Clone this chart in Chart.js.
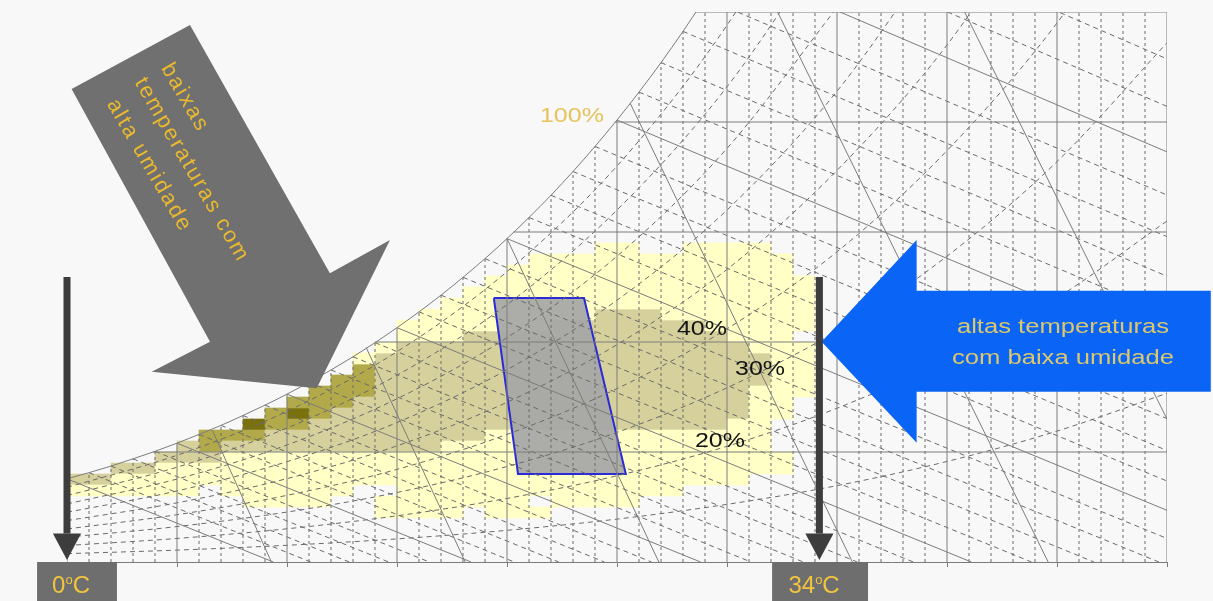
<!DOCTYPE html>
<html lang="pt-BR">
<head>
<meta charset="utf-8">
<title>Carta psicrométrica</title>
<script src="https://cdn.jsdelivr.net/npm/chart.js@4.4.1/dist/chart.umd.min.js"></script>
<style>
  html, body { margin: 0; padding: 0; background: #f8f8f8; }
  #box { position: relative; width: 1213px; height: 601px; }
</style>
</head>
<body>
<div id="box"><canvas id="psy"></canvas></div>
<script>
// temperatura de bulbo seco (°C) x umidade absoluta (g/kg)

// curva de saturação (100%)
const SAT_T = [0, 1, 2, 3, 4, 5, 6, 7, 8, 9, 10, 11, 12, 13, 14, 15, 16, 17, 18, 19, 20,
  21, 22, 23, 24, 25, 26, 27, 28, 29, 30, 31, 32, 33, 34];
const SAT_W = [3.78, 4.06, 4.36, 4.69, 5.03, 5.40, 5.80, 6.21, 6.66, 7.13, 7.63, 8.17, 8.73,
  9.33, 9.97, 10.65, 11.37, 12.13, 12.94, 13.79, 14.70, 15.66, 16.67, 17.75, 18.89, 20.09,
  21.36, 22.70, 24.12, 25.63, 27.20, 28.88, 30.65, 32.52, 34.49];

// umidade relativa
const RH_LEVELS = [10, 20, 30, 40, 50, 60, 70, 80, 90];
const RH_T = [0, 5, 10, 15, 20, 25, 30, 35, 40, 45, 50];
const RH_W = [
  [0.38, 0.54, 0.76, 1.05, 1.44, 1.95, 2.62, 3.47, 4.57, 5.95, 7.67],
  [0.75, 1.07, 1.51, 2.10, 2.89, 3.92, 5.26, 6.99, 9.20, 12.0, 15.5],
  [1.13, 1.61, 2.27, 3.16, 4.34, 5.89, 7.92, 10.5, 13.9, 18.2, 23.6],
  [1.50, 2.15, 3.03, 4.21, 5.80, 7.88, 10.6, 14.1, 18.7, 24.5, 31.9],
  [1.88, 2.69, 3.79, 5.28, 7.26, 9.88, 13.3, 17.8, 23.5, 30.9],
  [2.26, 3.23, 4.56, 6.34, 8.74, 11.9, 16.0, 21.4, 28.4],
  [2.64, 3.77, 5.32, 7.42, 10.2, 13.9, 18.8, 25.2],
  [3.02, 4.31, 6.09, 8.49, 11.7, 16.0, 21.6, 28.9],
  [3.39, 4.85, 6.85, 9.56, 13.2, 18.0, 24.4, 32.7]
];

// bulbo úmido: começa na saturação, termina na borda
const WB_END_T = [9.38, 11.08, 12.83, 14.62, 16.47, 18.37, 20.33, 22.35, 24.43, 26.57, 28.80,
  31.09, 33.47, 35.92, 38.47, 41.11, 43.84, 46.68, 49.63, 50, 50, 50, 50, 50, 50, 50, 50,
  50, 50, 50, 50, 50, 50, 50];
const WB_END_W = [0, 0, 0, 0, 0, 0, 0, 0, 0, 0, 0, 0, 0, 0, 0, 0, 0, 0, 0, 1.07, 2.35, 3.68,
  5.07, 6.52, 8.03, 9.61, 11.26, 12.99, 14.79, 16.68, 18.64, 20.71, 22.87, 25.14];

// volume específico
const VOL_START_T = [6.6, 13.6, 20.0, 25.6, 32.3, 40.8];
const VOL_START_W = [6.0, 9.75, 14.7, 20.85, 25, 25];
const VOL_END_T = [9.29, 18.1, 26.9, 35.7, 44.6, 50];
const VOL_END_W = [0, 0, 0, 0, 0, 6.5];

// linhas de umidade absoluta
const DEW_W = [5, 10, 15, 20, 25];
const DEW_T = [3.9, 14.0, 20.3, 24.9, 28.6];

// frequência dos dados climáticos (faixas de 0,5 g/kg, células de 1 °C)
const CLOUD_ROW_W = [14, 13.5, 13, 12.5, 12, 11.5, 11, 10.5, 10, 9.5, 9, 8.5, 8, 7.5, 7,
  6.5, 6, 5.5, 5, 4.5, 4, 3.5, 3, 2.5, 2];
const CLOUD_RUNS = [
  [[24, 25, 1], [28, 31, 1]],
  [[21, 32, 1]],
  [[20, 32, 1]],
  [[19, 33, 1]],
  [[18, 33, 1]],
  [[17, 33, 1]],
  [[16, 23, 1], [24, 26, 2], [27, 33, 1]],
  [[15, 21, 1], [22, 28, 2], [29, 33, 1]],
  [[15, 17, 1], [18, 29, 2], [30, 32, 1]],
  [[14, 14, 1], [15, 30, 2], [31, 33, 1]],
  [[13, 13, 1], [14, 31, 2], [32, 33, 1]],
  [[13, 13, 3], [14, 31, 2], [32, 33, 1]],
  [[12, 13, 3], [14, 31, 2], [32, 33, 1]],
  [[11, 13, 3], [14, 30, 2], [31, 33, 1]],
  [[10, 12, 3], [13, 30, 2], [31, 32, 1]],
  [[9, 9, 3], [10, 10, 4], [11, 11, 3], [12, 30, 2], [31, 32, 1]],
  [[8, 8, 4], [9, 10, 3], [11, 29, 2], [30, 31, 1]],
  [[6, 8, 3], [9, 18, 2], [19, 31, 1]],
  [[5, 5, 2], [6, 6, 3], [7, 16, 2], [17, 31, 1]],
  [[4, 6, 2], [7, 32, 1]],
  [[2, 3, 2], [4, 32, 1]],
  [[0, 1, 2], [2, 30, 1]],
  [[0, 5, 1], [7, 12, 1], [15, 27, 1]],
  [[8, 11, 1], [14, 20, 1], [22, 25, 1]],
  [[14, 17, 1], [19, 21, 1]]
];

// zona de conforto
const COMFORT_T = [19.4, 23.5, 25.4, 20.5];
const COMFORT_W = [12.0, 12.0, 4.0, 4.0];

// setas
const COLD_ARROW_T = [0.21, 5.59, 11.95, 14.68, 11.35, 3.85, 6.50];
const COLD_ARROW_W = [21.5, 24.41, 13.12, 14.64, 7.90, 8.65, 10.01];
const HOT_ARROW_T = [34.30, 38.62, 38.62, 51.99, 51.99, 38.62, 38.62];
const HOT_ARROW_W = [10.01, 14.64, 12.33, 12.33, 7.74, 7.74, 5.42];
const MARKER_T = [0, 34.2];
const MARKER_LABEL = ['0', '34'];

// ---- estilo ----
const SOLID = '#7c7c7c';
const DASHED = '#6a6a6a';
const CLOUD_COLORS = ['rgb(255,255,198)', 'rgb(214,209,156)', 'rgb(178,170,74)', 'rgb(122,112,12)'];
const FONT = '"Liberation Sans", Arial, sans-serif';

const MARKER_BOX = [[-1.36, 2.27], [32.05, 36.41]];
const NOTES = [
  { text: '100%', t: 22.95, w: 20.27, size: 20, color: '#e6c35c', stretch: 1.25 },
  { text: '40%', t: 28.86, w: 10.55, size: 20, color: '#141414', stretch: 1.25 },
  { text: '30%', t: 31.5, w: 8.77, size: 20, color: '#141414', stretch: 1.25 },
  { text: '20%', t: 29.68, w: 5.5, size: 20, color: '#141414', stretch: 1.25 },
  { text: 'altas temperaturas', t: 45.27, w: 10.64, size: 20, color: '#dcc86c', stretch: 1.28 },
  { text: 'com baixa umidade', t: 45.27, w: 9.27, size: 20, color: '#dcc86c', stretch: 1.28 },
  { text: 'baixas', t: 4.5, w: 22.59, size: 22, color: '#e9b92e', angle: 60, align: 'left', spacing: '2px' },
  { text: 'temperaturas com', t: 3.29, w: 21.94, size: 22, color: '#e9b92e', angle: 60, align: 'left', spacing: '2px' },
  { text: 'alta umidade', t: 2.03, w: 20.97, size: 22, color: '#e9b92e', angle: 60, align: 'left', spacing: '2px' }
];

const GAP = { x: NaN, y: NaN };

function lineSet(data, extra) {
  return Object.assign({
    type: 'scatter',
    data,
    showLine: true,
    pointRadius: 0,
    borderWidth: 1,
    borderColor: SOLID,
    fill: false,
    tension: 0
  }, extra);
}

// grades
const vDash = [];
const vSolid = [];
for (let t = 0; t <= 50; t++) {
  const top = t < SAT_W.length ? Math.min(SAT_W[t], 25) : 25;
  (t % 5 === 0 ? vSolid : vDash).push({ x: t, y: 0 }, { x: t, y: top }, GAP);
}

const hSolid = [];
DEW_W.forEach((w, i) => hSolid.push({ x: DEW_T[i], y: w }, { x: 50, y: w }, GAP));

const wbDash = [];
const wbSolid = [];
WB_END_T.forEach((tEnd, t) => {
  (t % 5 === 0 ? wbSolid : wbDash).push({ x: t, y: SAT_W[t] }, { x: tEnd, y: WB_END_W[t] }, GAP);
});

const volSolid = [];
VOL_START_T.forEach((t, i) => {
  volSolid.push({ x: t, y: VOL_START_W[i] }, { x: VOL_END_T[i], y: VOL_END_W[i] }, GAP);
});

const cloudSets = CLOUD_COLORS.map(color => ({
  type: 'bar',
  data: [],
  backgroundColor: color,
  borderWidth: 0,
  grouped: false,
  barPercentage: 1,
  categoryPercentage: 1,
  order: 50
}));
CLOUD_RUNS.forEach((runs, r) => {
  runs.forEach(([t0, t1, level]) => {
    for (let t = t0; t <= t1; t++) {
      cloudSets[level - 1].data.push({ x: t + 0.5, y: [CLOUD_ROW_W[r], CLOUD_ROW_W[r] + 0.5] });
    }
  });
});

const rhSets = RH_W.map((ws, i) => lineSet(
  ws.map((w, j) => ({ x: RH_T[j], y: w })),
  {
    label: RH_LEVELS[i] + '%',
    borderColor: DASHED,
    borderDash: [5, 4],
    cubicInterpolationMode: 'monotone',
    order: 39
  }
));

const comfort = COMFORT_T.map((t, i) => ({ x: t, y: COMFORT_W[i] }));
comfort.push(comfort[0]);

const datasets = [
  ...cloudSets,
  lineSet(comfort, {
    fill: 'shape',
    backgroundColor: 'rgba(166,166,166,0.93)',
    borderColor: '#2a2ad8',
    borderWidth: 2,
    order: 45
  }),
  lineSet(vDash, { borderColor: DASHED, borderDash: [3, 3], order: 40 }),
  ...rhSets,
  lineSet(wbDash, { borderColor: DASHED, borderDash: [5, 4], order: 38 }),
  lineSet(vSolid, { order: 30 }),
  lineSet(hSolid, { order: 30 }),
  lineSet(wbSolid, { order: 30 }),
  lineSet(volSolid, { order: 30 }),
  lineSet(SAT_T.map((t, i) => ({ x: t, y: SAT_W[i] })), {
    cubicInterpolationMode: 'monotone',
    order: 29
  })
];

const annotations = {
  id: 'annotations',
  afterDatasetsDraw(chart) {
    const { ctx, scales: { x, y } } = chart;
    const px = t => x.getPixelForValue(t);
    const py = w => y.getPixelForValue(w);

    const polygon = (ts, ws, color) => {
      ctx.beginPath();
      ts.forEach((t, i) => {
        if (i === 0) ctx.moveTo(px(t), py(ws[i]));
        else ctx.lineTo(px(t), py(ws[i]));
      });
      ctx.closePath();
      ctx.fillStyle = color;
      ctx.fill();
    };

    ctx.save();
    polygon(COLD_ARROW_T, COLD_ARROW_W, '#707070');
    polygon(HOT_ARROW_T, HOT_ARROW_W, '#0a64f5');

    MARKER_T.forEach((t, i) => {
      ctx.strokeStyle = '#3d3d3d';
      ctx.lineWidth = 7;
      ctx.beginPath();
      ctx.moveTo(px(t), py(12.95));
      ctx.lineTo(px(t), py(1.3));
      ctx.stroke();
      polygon([t - 0.64, t + 0.64, t], [1.3, 1.3, 0.09], '#3d3d3d');

      const [b0, b1] = MARKER_BOX[i];
      ctx.fillStyle = '#6e6e6e';
      ctx.fillRect(px(b0), py(0), px(b1) - px(b0), chart.height - py(0));

      // "0ºC" com o "o" elevado
      const big = '24px ' + FONT;
      const small = '13px ' + FONT;
      ctx.font = big;
      const wNum = ctx.measureText(MARKER_LABEL[i]).width;
      const wC = ctx.measureText('C').width;
      ctx.font = small;
      const wO = ctx.measureText('o').width;
      const total = wNum + wO + wC;
      const cx = (px(b0) + px(b1)) / 2 - 6;
      const base = py(0) + 31;
      let left = cx - total / 2;
      ctx.fillStyle = '#f2c53d';
      ctx.textAlign = 'left';
      ctx.textBaseline = 'alphabetic';
      ctx.font = big;
      ctx.fillText(MARKER_LABEL[i], left, base);
      left += wNum;
      ctx.font = small;
      ctx.fillText('o', left, base - 9);
      left += wO;
      ctx.font = big;
      ctx.fillText('C', left, base);
    });

    NOTES.forEach(n => {
      ctx.save();
      ctx.translate(px(n.t), py(n.w));
      if (n.angle) ctx.rotate(n.angle * Math.PI / 180);
      if (n.stretch) ctx.scale(n.stretch, 1);
      ctx.font = n.size + 'px ' + FONT;
      ctx.letterSpacing = n.spacing || '0px';
      ctx.fillStyle = n.color;
      ctx.textAlign = n.align || 'center';
      ctx.textBaseline = 'middle';
      ctx.fillText(n.text, 0, 0);
      ctx.restore();
    });
    ctx.restore();
  }
};

// eslint-disable-next-line no-new
new Chart(document.getElementById('psy'), {
  type: 'scatter',
  data: { datasets },
  options: {
    responsive: true,
    maintainAspectRatio: false,
    devicePixelRatio: 1,
    animation: false,
    events: [],
    layout: { padding: { left: 67, right: 46, top: 12, bottom: 34 } },
    plugins: {
      legend: { display: false },
      tooltip: { enabled: false }
    },
    scales: {
      x: {
        type: 'linear',
        min: 0,
        max: 50,
        offset: false,
        ticks: { display: false, stepSize: 5 },
        grid: { drawOnChartArea: false, drawTicks: true, tickLength: 5, color: SOLID, offset: false },
        border: { display: true, color: SOLID, width: 1 }
      },
      y: {
        type: 'linear',
        min: 0,
        max: 25,
        display: false
      }
    }
  },
  plugins: [annotations]
});
</script>
</body>
</html>
